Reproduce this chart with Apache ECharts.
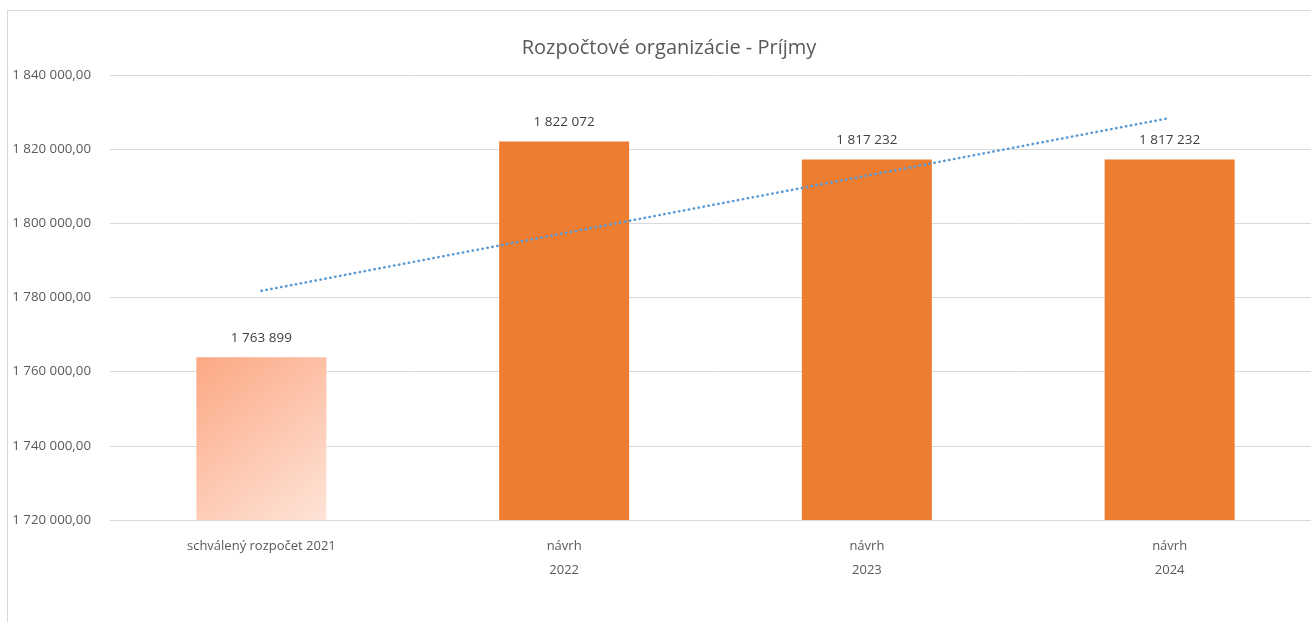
<!DOCTYPE html>
<html>
<head>
<meta charset="utf-8">
<script src="https://cdn.jsdelivr.net/npm/echarts@6/dist/echarts.min.js"></script>
<style>
  html, body { margin: 0; padding: 0; background: #fff; overflow: hidden; }
  #frame { position: absolute; left: 7px; top: 10px; width: 1400px; height: 700px;
           border-left: 1px solid #d9d9d9; border-top: 1px solid #d9d9d9; }
  #chart { position: absolute; left: 0; top: 0; width: 1420px; height: 622px; }
</style>
</head>
<body>
<div id="frame"></div>
<div id="chart"></div>
<script>
// Budget categories and revenue values
const categories = ['schválený rozpočet 2021', 'návrh\n2022', 'návrh\n2023', 'návrh\n2024'];
const revenue = [1763899, 1822072, 1817232, 1817232];
// Linear trend line end points (first and last category)
const trendEnds = [1781800, 1828400];
// Value axis range
const yMin = 1720000, yMax = 1840000, yStep = 20000;

const FONT = '"Open Sans", sans-serif';

function spaced(n) {
  return String(Math.round(n)).replace(/\B(?=(\d{3})+(?!\d))/g, ' ');
}

const barData = revenue.map((v, i) => {
  if (i === 0) {
    return {
      value: v,
      itemStyle: {
        color: new echarts.graphic.LinearGradient(0, 0, 1, 1, [
          { offset: 0, color: '#FCA884' },
          { offset: 1, color: '#FEE4D8' }
        ])
      }
    };
  }
  return { value: v };
});

const trendData = categories.map((c, i) =>
  i === 0 ? trendEnds[0] : (i === categories.length - 1 ? trendEnds[1] : null));

const chart = echarts.init(document.getElementById('chart'), null, { renderer: 'canvas' });
chart.setOption({
  animation: false,
  title: {
    text: 'Rozpočtové organizácie - Príjmy',
    left: 664, top: 33, textAlign: 'center',
    textStyle: { fontFamily: FONT, fontSize: 20, fontWeight: 'normal', color: '#595959' }
  },
  grid: { left: 110, top: 75, width: 1211, height: 445, containLabel: false },
  xAxis: {
    type: 'category',
    data: categories,
    axisLine: { show: true, lineStyle: { color: '#d9d9d9', width: 1 } },
    axisTick: { show: false },
    axisLabel: {
      fontFamily: FONT, fontSize: 13, color: '#595959',
      lineHeight: 24, margin: 14, interval: 0
    }
  },
  yAxis: {
    type: 'value',
    min: yMin, max: yMax, interval: yStep,
    axisLine: { show: false },
    axisTick: { show: false },
    splitLine: { lineStyle: { color: '#d9d9d9', width: 1 } },
    axisLabel: {
      fontFamily: FONT, fontSize: 13.3, color: '#595959', margin: 19,
      formatter: v => spaced(v) + ',00'
    }
  },
  series: [
    {
      type: 'bar',
      data: barData,
      barWidth: 130,
      itemStyle: { color: '#ED7D31' },
      label: {
        show: true, position: 'top', distance: 12,
        fontFamily: FONT, fontSize: 13.5, color: '#404040',
        formatter: p => spaced(p.value)
      },
      z: 2
    },
    {
      type: 'line',
      data: trendData,
      connectNulls: true,
      symbol: 'none',
      lineStyle: { color: '#5B9BD5', width: 2.5, type: [0.5, 4.5], cap: 'round' },
      z: 3
    }
  ]
});
</script>
</body>
</html>
